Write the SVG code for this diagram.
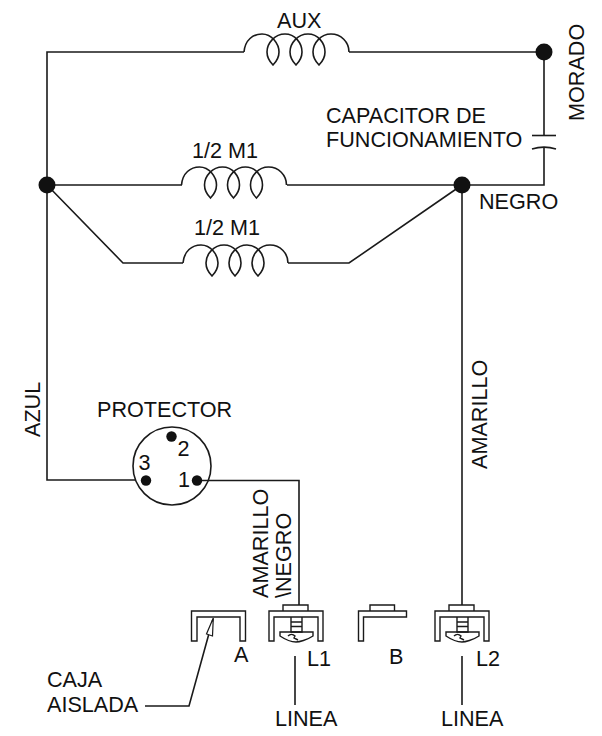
<svg xmlns="http://www.w3.org/2000/svg" width="602" height="736" viewBox="0 0 602 736">
<style>
.w{fill:none;stroke:#1a1a1a;stroke-width:1.6;stroke-linejoin:miter}
.t{fill:none;stroke:#1a1a1a;stroke-width:1.4}
.d{fill:#111;stroke:none}
text{font-family:"Liberation Sans",Arial,sans-serif;font-size:21.6px;fill:#111}
</style>
<defs>
<path id="coil" class="w" d="M0,0C1,-12 9,-18 18,-18C28,-18 35,-8 35,0C35,6 32,10 29,13C26,10 23,6 23,0C23,-9 31,-18 41,-18C51,-18 58,-9 58,0C58,6 55,10 52,13C49,10 46,6 46,0C46,-9 54,-18 64,-18C74,-18 81,-9 81,0C81,6 78,10 75,13C72,10 69,6 69,0C69,-9 77,-18 87,-18C97,-18 105,-10 105,0"/>
<g id="term">
<path class="t" d="M0,30V0H54V30H49V6H5V30Z"/>
<path class="t" d="M14,0V-6H39V0"/>
<path class="t" d="M22,6V21H33V6M22,11H33M22,15.500H33"/>
<path class="t" d="M11,21H44V25C38,29 30,31 27,31C24,31 17,29 11,25Z"/>
<path class="t" d="M19,25C21,23 24,23 26,25L25,27L29,29"/>
</g>
</defs>
<g id="connectors">
<path class="w" d="M244,52H47V480H135"/>
<path class="w" d="M349,52H544V135.500"/>
<path class="w" d="M544,148V185H462"/>
<path class="w" d="M47,185H182M287,185H462"/>
<path class="w" d="M47,185L123,263H183M288,263H349L462,185"/>
<path class="w" d="M462,185V605"/>
<path class="w" d="M197,480.500H299V605"/>
<path class="w" d="M295,656V705M462,656V705"/>
<path class="w" d="M145,706H189L213,619"/>
<path class="w" d="M532,135.500H556"/>
<path class="w" d="M532,149C540,146.500 548,146.500 556,149"/>
<path fill="#fff" stroke="#1a1a1a" stroke-width="1.2" d="M213.300,618L206.500,634L212.500,636Z"/>
</g>
<g id="aux"><use href="#coil" x="244" y="52"/><text x="277" y="28">AUX</text></g>
<g id="m1-top"><use href="#coil" x="181.500" y="185"/><text x="192" y="158">1/2 M1</text></g>
<g id="m1-bottom"><use href="#coil" x="183" y="263"/><text x="194" y="235">1/2 M1</text></g>
<g id="node-left"><circle class="d" cx="47" cy="185" r="8.500"/></g>
<g id="node-mid"><circle class="d" cx="462" cy="185" r="8.500"/></g>
<g id="node-right"><circle class="d" cx="544" cy="52" r="8.500"/></g>
<g id="capacitor"><text x="326" y="123">CAPACITOR DE</text><text x="326" y="146.500">FUNCIONAMIENTO</text></g>
<g id="label-morado"><text transform="translate(584,121) rotate(-90)">MORADO</text></g>
<g id="label-negro"><text x="479" y="209">NEGRO</text></g>
<g id="label-azul"><text transform="translate(40,437) rotate(-90)">AZUL</text></g>
<g id="label-amarillo"><text transform="translate(487,469) rotate(-90)">AMARILLO</text></g>
<g id="label-amarillo-negro"><text transform="translate(268,598) rotate(-90)">AMARILLO</text><text transform="translate(291,598) rotate(-90)">\NEGRO</text></g>
<g id="protector">
<text x="97" y="417">PROTECTOR</text>
<circle class="w" cx="172" cy="466" r="39"/>
<circle class="d" cx="197" cy="480.500" r="5.200"/>
<circle class="d" cx="146" cy="480.500" r="5.200"/>
<circle class="d" cx="171.500" cy="436.500" r="5.200"/>
<text x="177.500" y="456">2</text><text x="138.500" y="470">3</text><text x="178" y="487">1</text>
</g>
<g id="term-a"><path class="t" d="M191.500,641V611H245.500V641H240V617H197V641Z"/><text x="234" y="662">A</text></g>
<g id="term-l1"><use href="#term" x="269" y="611"/><text x="307" y="665.500">L1</text></g>
<g id="term-b"><path class="t" d="M358.500,641V611H406.500V617H363.500V641Z"/><path class="t" d="M370,611V605H394.500V611"/><text x="389" y="664">B</text></g>
<g id="term-l2"><use href="#term" x="435" y="611"/><text x="476" y="665.500">L2</text></g>
<g id="label-caja"><text x="47" y="687">CAJA</text><text x="47" y="712">AISLADA</text></g>
<g id="linea-1"><text x="275" y="726">LINEA</text></g>
<g id="linea-2"><text x="441" y="726">LINEA</text></g>
</svg>
